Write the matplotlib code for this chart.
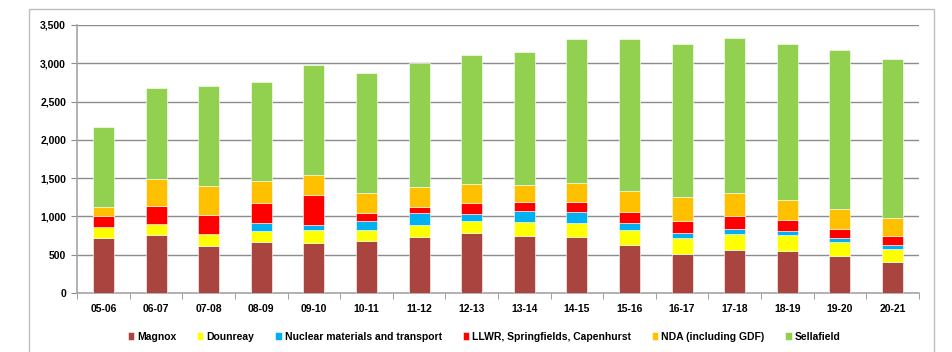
import matplotlib.pyplot as plt
from matplotlib import font_manager
from matplotlib.patches import Rectangle
import numpy as np

years = ['05-06', '06-07', '07-08', '08-09', '09-10', '10-11', '11-12', '12-13',
         '13-14', '14-15', '15-16', '16-17', '17-18', '18-19', '19-20', '20-21']

magnox = [720, 753, 618, 670, 657, 683, 735, 780, 744, 735, 631, 505, 562, 553, 479, 409]
dounreay = [145, 148, 148, 144, 162, 140, 157, 160, 179, 179, 196, 217, 209, 209, 191, 170]
nuclear_materials = [0, 0, 0, 100, 69, 121, 153, 92, 144, 144, 87, 66, 65, 52, 48, 52]
llwr = [145, 239, 253, 266, 396, 97, 82, 148, 121, 135, 140, 156, 174, 143, 122, 117]
nda = [110, 349, 382, 279, 257, 261, 261, 244, 219, 244, 274, 306, 300, 258, 253, 232]
sellafield = [1045, 1188, 1298, 1297, 1441, 1567, 1612, 1688, 1736, 1880, 1989, 1997, 2016, 2032, 2076, 2080]

series = [
    ('Magnox', magnox, '#A9443F'),
    ('Dounreay', dounreay, '#FFFF00'),
    ('Nuclear materials and transport', nuclear_materials, '#00B0F0'),
    ('LLWR, Springfields, Capenhurst', llwr, '#FF0000'),
    ('NDA (including GDF)', nda, '#FFC000'),
    ('Sellafield', sellafield, '#92D050'),
]


def has_font(name):
    try:
        font_manager.findfont(font_manager.FontProperties(family=name), fallback_to_default=False)
        return True
    except ValueError:
        return False


# prefer a narrow face for the labels, fall back to regular width
if has_font('Liberation Sans Narrow'):
    plt.rcParams['font.family'] = ['Liberation Sans Narrow', 'DejaVu Sans']
    fsize = 9
else:
    plt.rcParams['font.family'] = ['Liberation Sans', 'DejaVu Sans']
    fsize = 7.5

fig = plt.figure(figsize=(9.53, 3.52), dpi=100)
ax = fig.add_axes([0.081, 0.168, 0.883, 0.761])

# light outer frame around the chart area
fig.patches.append(Rectangle((0.0304, -0.02), 0.950, 0.995, transform=fig.transFigure,
                             fill=False, edgecolor='#BFBFBF', linewidth=1))

x = np.arange(len(years))
bottom = np.zeros(len(years))
for name, vals, color in series:
    ax.bar(x, vals, width=0.4, bottom=bottom, color=color, label=name,
           edgecolor='white', linewidth=0.4, zorder=3)
    bottom += np.array(vals)

ax.set_ylim(0, 3500)
ax.set_xlim(-0.5, len(years) - 0.5)
ax.set_yticks(range(0, 3501, 500))
ax.set_yticklabels([f'{v:,}' for v in range(0, 3501, 500)])
ax.yaxis.grid(True, color='#8C8C8C', linewidth=1, zorder=0)

ax.set_xticks(x)
ax.set_xticklabels(years)
ax.set_xticks(np.arange(-0.5, len(years)), minor=True)
ax.tick_params(axis='x', which='major', length=0, pad=8)
ax.tick_params(axis='x', which='minor', length=4, color='#8C8C8C', direction='out')
ax.tick_params(axis='y', length=4, color='#8C8C8C', pad=4)

for lbl in ax.get_xticklabels() + ax.get_yticklabels():
    lbl.set_fontsize(fsize)
    lbl.set_fontweight('bold')

for side in ('top', 'right'):
    ax.spines[side].set_visible(False)
for side in ('left', 'bottom'):
    ax.spines[side].set_color('#A6A6A6')
    ax.spines[side].set_linewidth(1.2)

leg = fig.legend(loc='center', bbox_to_anchor=(0.508, 0.043), ncol=6, frameon=False,
                 handlelength=0.6, handleheight=0.8, handletextpad=0.3, columnspacing=2.0,
                 prop={'size': fsize, 'weight': 'bold'})

fig.savefig('out.png', dpi=100)
